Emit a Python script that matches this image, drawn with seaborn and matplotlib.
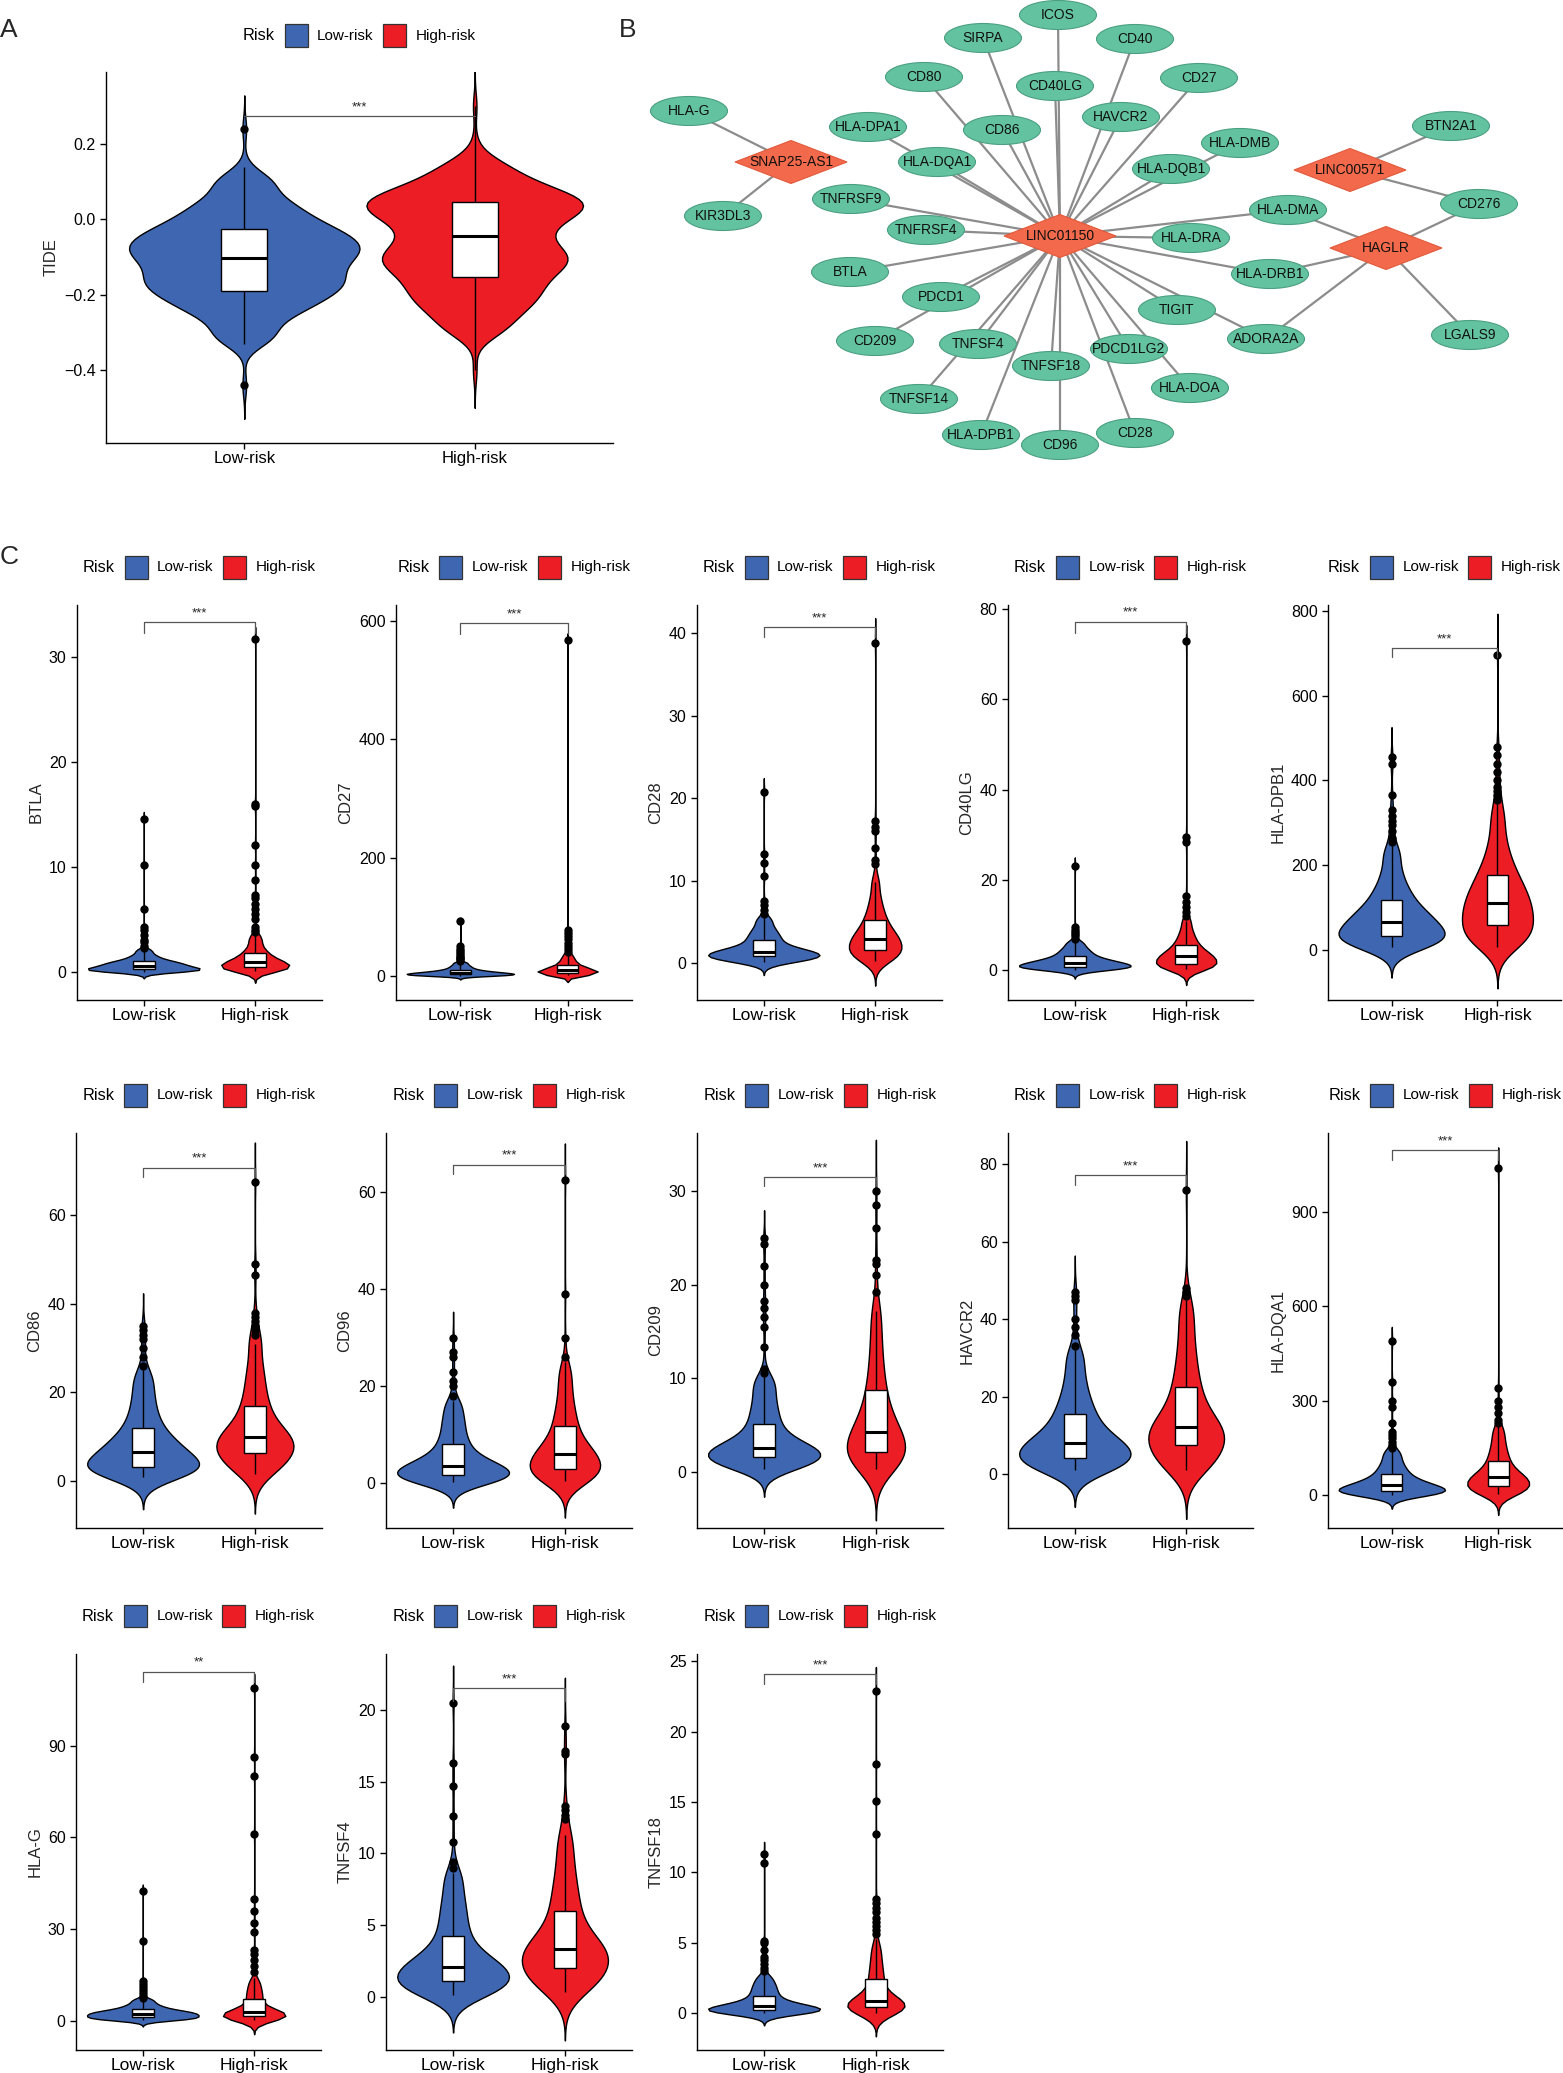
import numpy as np
import pandas as pd
import matplotlib
matplotlib.use("Agg")
import matplotlib.pyplot as plt
import seaborn as sns
from matplotlib.patches import Ellipse, Polygon, Rectangle
from matplotlib.offsetbox import TextArea, DrawingArea, HPacker, AnchoredOffsetbox

# ---------------- data ----------------
groups = ["Low-risk", "High-risk"]
colors = ["#3F67B1", "#EC1D25"]

# core = group quantiles at 2.5%, 7.5%, ..., 97.5%; out = single extreme samples
tide_low = [-0.31, -0.26, -0.23, -0.21, -0.19, -0.175, -0.16, -0.145, -0.125, -0.11,
            -0.095, -0.08, -0.07, -0.055, -0.04, -0.025, -0.005, 0.02, 0.05, 0.10]
tide_low_out = [-0.33, 0.14, 0.24, -0.44]
tide_high = [-0.29, -0.245, -0.215, -0.19, -0.165, -0.14, -0.12, -0.105, -0.09, -0.07,
             -0.045, -0.02, 0.0, 0.02, 0.033, 0.045, 0.058, 0.075, 0.10, 0.14]
tide_high_out = [-0.40, 0.20, 0.30]

btla_low = [0.02, 0.06, 0.10, 0.14, 0.18, 0.22, 0.27, 0.33, 0.40, 0.50, 0.58, 0.65, 0.72, 0.82, 0.92, 1.0, 1.15, 1.35, 1.6, 2.0]
btla_low_out = [2.3, 2.5, 2.8, 3.0, 3.5, 4.0, 4.3, 6.0, 10.2, 14.6]
btla_high = [0.05, 0.12, 0.2, 0.28, 0.35, 0.43, 0.52, 0.62, 0.72, 0.82, 0.9, 1.0, 1.12, 1.28, 1.5, 1.7, 1.95, 2.3, 2.8, 3.3]
btla_high_out = [3.5, 3.8, 4.0, 4.3, 5.0, 5.5, 6.0, 6.5, 7.0, 7.3, 8.8, 10.2, 12.1, 15.8, 16.0, 31.8]

cd27_low = [0.5, 1.0, 1.4, 1.8, 2.2, 2.6, 3.0, 3.6, 4.2, 4.8, 5.4, 6.0, 6.8, 7.8, 9.0, 10.5, 12.5, 15, 18, 22]
cd27_low_out = [25, 28, 30, 32, 35, 38, 42, 45, 50, 92]
cd27_high = [1.0, 2.0, 3.0, 3.8, 4.6, 5.4, 6.3, 7.3, 8.4, 9.5, 10.5, 11.6, 13, 14.5, 16.5, 19, 22, 26, 30, 36]
cd27_high_out = [40, 45, 50, 55, 62, 68, 72, 78, 568]

cd28_low = [0.2, 0.35, 0.48, 0.6, 0.72, 0.85, 0.95, 1.05, 1.18, 1.3, 1.4, 1.55, 1.75, 2.0, 2.35, 2.8, 3.2, 3.7, 4.3, 5.2]
cd28_low_out = [5.5, 6, 6.5, 7, 7.5, 10.6, 12.2, 13.2, 20.8]
cd28_high = [0.3, 0.6, 0.9, 1.1, 1.35, 1.6, 1.9, 2.2, 2.5, 2.8, 3.0, 3.3, 3.7, 4.1, 4.6, 5.2, 5.9, 6.8, 8.0, 9.8]
cd28_high_out = [12, 12.5, 14, 16, 16.5, 17.2, 38.8]

cd40lg_low = [0.15, 0.3, 0.42, 0.55, 0.68, 0.82, 0.95, 1.1, 1.3, 1.5, 1.7, 1.9, 2.1, 2.4, 2.75, 3.2, 3.7, 4.3, 5.0, 6.0]
cd40lg_low_out = [6.5, 7, 7.5, 8, 8.5, 9, 9.5, 23]
cd40lg_high = [0.2, 0.45, 0.7, 0.95, 1.15, 1.45, 1.8, 2.15, 2.5, 2.85, 3.1, 3.4, 3.8, 4.3, 4.9, 5.6, 6.4, 7.5, 8.8, 10.8]
cd40lg_high_out = [12, 13, 14, 15, 16.5, 28.5, 29.5, 73]

dpb1_low = [6, 12, 17, 22, 27, 33, 39, 45, 52, 59, 67, 75, 83, 92, 104, 118, 135, 155, 185, 225]
dpb1_low_out = [245, 255, 265, 280, 295, 305, 315, 330, 365, 440, 455]
dpb1_high = [8, 18, 28, 38, 47, 58, 68, 79, 90, 100, 110, 121, 133, 146, 160, 176, 196, 222, 258, 310]
dpb1_high_out = [335, 345, 355, 365, 375, 385, 400, 420, 440, 460, 480, 695]

cd86_low = [1.0, 1.5, 2.0, 2.4, 2.8, 3.2, 3.7, 4.3, 5.0, 5.8, 6.5, 7.3, 8.2, 9.2, 10.4, 12, 14, 16.5, 19.5, 23]
cd86_low_out = [24, 25, 26, 28, 30, 32, 33, 34, 35]
cd86_high = [1.5, 2.8, 3.9, 4.8, 5.6, 6.4, 7.2, 8.0, 8.7, 9.3, 9.9, 10.7, 11.8, 13.2, 15, 17, 19.5, 22.5, 26, 31]
cd86_high_out = [33, 34, 35, 36, 37, 38, 46.5, 49, 67.5]

cd96_low = [0.3, 0.6, 0.9, 1.1, 1.35, 1.65, 2.0, 2.4, 2.85, 3.25, 3.6, 4.1, 4.7, 5.5, 6.6, 8.0, 9.5, 11.5, 13.5, 16]
cd96_low_out = [17, 18, 20, 21, 23, 26, 27, 30]
cd96_high = [0.4, 0.9, 1.4, 1.9, 2.4, 2.9, 3.5, 4.2, 4.9, 5.5, 6.0, 6.7, 7.6, 8.7, 10.2, 11.8, 13.8, 16, 19, 22.5]
cd96_high_out = [23.5, 24, 25, 26, 30, 39, 62.5]

cd209_low = [0.3, 0.6, 0.85, 1.05, 1.3, 1.55, 1.75, 1.95, 2.15, 2.35, 2.55, 2.85, 3.2, 3.7, 4.3, 5.1, 6.0, 7.0, 8.2, 9.5]
cd209_low_out = [9.8, 10, 10.3, 10.6, 11, 13.3, 15.5, 16.5, 17.5, 18.3, 20, 22, 24.3, 25]
cd209_high = [0.3, 0.7, 1.1, 1.45, 1.8, 2.15, 2.55, 3.0, 3.5, 3.9, 4.3, 4.9, 5.6, 6.5, 7.5, 8.7, 10.2, 12, 14.2, 16.8]
cd209_high_out = [17.2, 19.2, 21, 22.2, 22.6, 26, 28.5, 30]

havcr2_low = [1.0, 1.7, 2.3, 2.9, 3.5, 4.3, 5.1, 5.9, 6.7, 7.4, 8.0, 9.0, 10.3, 11.8, 13.6, 15.6, 18, 21, 25, 30]
havcr2_low_out = [32, 33, 36, 38, 40, 45, 46, 47]
havcr2_high = [1.0, 2.2, 3.5, 4.8, 6.0, 7.5, 8.6, 9.6, 10.5, 11.3, 12.2, 13.5, 15.2, 17.2, 19.8, 22.5, 26, 30, 35, 41]
havcr2_high_out = [43, 44, 45, 46, 47, 48, 73.5]

dqa1_low = [1.5, 3.5, 5.5, 7.5, 9.5, 12, 15, 19, 23.5, 27, 31, 35.5, 41, 47.5, 56, 66, 78, 92, 110, 132]
dqa1_low_out = [140, 145, 150, 160, 170, 180, 190, 200, 230, 280, 300, 360, 490]
dqa1_high = [3, 8, 13, 18, 23, 28.5, 34, 40, 46, 51, 56, 62, 70, 80, 93, 108, 125, 145, 170, 200]
dqa1_high_out = [210, 215, 220, 230, 240, 260, 280, 300, 340, 1040]

hlag_low = [0.2, 0.4, 0.6, 0.8, 1.0, 1.2, 1.45, 1.7, 1.95, 2.15, 2.35, 2.55, 2.8, 3.05, 3.35, 3.7, 4.2, 4.8, 5.6, 6.7]
hlag_low_out = [7, 7.5, 8, 9, 10, 11, 12, 13, 26, 42.5]
hlag_high = [0.2, 0.45, 0.7, 0.95, 1.2, 1.45, 1.75, 2.05, 2.3, 2.5, 2.75, 3.1, 3.6, 4.3, 5.5, 7.0, 8.3, 9.6, 11.2, 13]
hlag_high_out = [14, 16, 18, 20, 22, 23, 29, 32, 36, 40, 61, 80, 86.5, 109]

tnfsf4_low = [0.1, 0.3, 0.5, 0.7, 0.9, 1.1, 1.3, 1.5, 1.7, 1.9, 2.1, 2.35, 2.65, 3.0, 3.5, 4.2, 5.0, 5.9, 6.9, 8.2]
tnfsf4_low_out = [8.6, 9, 9.4, 10.8, 12.6, 14.7, 16.3, 20.5]
tnfsf4_high = [0.3, 0.7, 1.1, 1.4, 1.7, 2.0, 2.3, 2.6, 2.85, 3.1, 3.35, 3.65, 4.0, 4.5, 5.2, 6.0, 6.9, 7.9, 9.2, 10.8]
tnfsf4_high_out = [11.3, 12.4, 12.7, 13, 13.3, 16.9, 17.1, 18.9]

tnfsf18_low = [0.02, 0.05, 0.09, 0.13, 0.17, 0.21, 0.26, 0.32, 0.38, 0.44, 0.5, 0.58, 0.68, 0.82, 1.0, 1.25, 1.5, 1.8, 2.1, 2.5]
tnfsf18_low_out = [2.8, 3.0, 3.2, 3.5, 3.8, 4.0, 4.5, 5.0, 5.1, 10.7, 11.3]
tnfsf18_high = [0.05, 0.12, 0.2, 0.28, 0.36, 0.44, 0.52, 0.6, 0.7, 0.78, 0.88, 1.0, 1.2, 1.5, 1.9, 2.35, 2.8, 3.3, 3.9, 4.6]
tnfsf18_high_out = [4.8, 5.0, 5.3, 5.6, 5.9, 6.2, 6.5, 6.8, 7.2, 7.5, 7.8, 8.1, 12.7, 15.1, 17.7, 22.9]

# network (panel B)
lnc_nodes = ["LINC01150", "SNAP25-AS1", "LINC00571", "HAGLR"]
edges = [("SNAP25-AS1", "HLA-G"), ("SNAP25-AS1", "KIR3DL3"),
         ("LINC00571", "BTN2A1"), ("LINC00571", "CD276"),
         ("HAGLR", "CD276"), ("HAGLR", "HLA-DMA"), ("HAGLR", "HLA-DRB1"),
         ("HAGLR", "ADORA2A"), ("HAGLR", "LGALS9")]
linc01150_targets = ["ICOS", "SIRPA", "CD40", "CD40LG", "CD27", "CD80", "CD86", "HAVCR2",
                     "HLA-DPA1", "HLA-DQA1", "HLA-DMB", "HLA-DQB1", "TNFRSF9", "TNFRSF4",
                     "BTLA", "PDCD1", "CD209", "TNFSF4", "TNFSF14", "HLA-DPB1", "TNFSF18",
                     "CD96", "PDCD1LG2", "CD28", "HLA-DOA", "TIGIT", "ADORA2A", "HLA-DRB1",
                     "HLA-DRA", "HLA-DMA"]
edges += [("LINC01150", t) for t in linc01150_targets]

# layout of the network, in figure pixels
node_pos = {
    "LINC01150": (1060, 236), "SNAP25-AS1": (791, 162), "LINC00571": (1350, 170), "HAGLR": (1386, 248),
    "HLA-G": (689, 111), "KIR3DL3": (723, 216), "CD80": (924, 77), "HLA-DPA1": (868, 127),
    "HLA-DQA1": (937, 162), "TNFRSF9": (851, 199), "TNFRSF4": (926, 230), "BTLA": (850, 272),
    "PDCD1": (941, 297), "CD209": (875, 341), "TNFSF14": (919, 399), "TNFSF4": (978, 344),
    "HLA-DPB1": (981, 435), "SIRPA": (983, 38), "CD86": (1002, 130), "ICOS": (1058, 15),
    "CD40": (1135, 39), "CD40LG": (1055, 86), "CD27": (1199, 78), "HAVCR2": (1121, 117),
    "HLA-DMB": (1240, 143), "HLA-DQB1": (1171, 169), "HLA-DMA": (1288, 210), "HLA-DRA": (1191, 238),
    "HLA-DRB1": (1270, 274), "TIGIT": (1177, 310), "ADORA2A": (1266, 339), "PDCD1LG2": (1129, 349),
    "HLA-DOA": (1190, 388), "TNFSF18": (1051, 366), "CD28": (1135, 433), "CD96": (1060, 445),
    "BTN2A1": (1451, 126), "CD276": (1479, 204), "LGALS9": (1470, 335),
}

# ---------------- style ----------------
sns.set_style("ticks")
plt.rcParams["font.family"] = ["Liberation Sans", "DejaVu Sans"]
plt.rcParams["axes.linewidth"] = 1.0

W, H = 1563, 2073
fig = plt.figure(figsize=(W / 100, H / 100), dpi=100)


def px_axes(l, r, t, b):
    return fig.add_axes([l / W, 1 - b / H, (r - l) / W, (b - t) / H])


def make_bw(mult):
    def nrd0(kde):
        # R's default bandwidth (bw.nrd0), as ggplot uses
        x = kde.dataset[0]
        sd = x.std(ddof=1)
        q75, q25 = np.percentile(x, [75, 25])
        lo = min(sd, (q75 - q25) / 1.34)
        return 0.9 * lo * len(x) ** -0.2 / sd * mult
    return nrd0


def risk_legend(ax, fs=11):
    items = [TextArea("Risk", textprops=dict(fontsize=fs + 0.8, color="black"))]
    for lab, col in zip(groups, colors):
        da = DrawingArea(16.5, 16.5, 0, 0)
        da.add_artist(Rectangle((0, 0), 16.5, 16.5, fc=col, ec="#333333", lw=0.9))
        items += [da, TextArea(lab, textprops=dict(fontsize=fs, color="black"))]
    box = HPacker(children=items, align="center", pad=0, sep=7)
    anch = AnchoredOffsetbox(loc="lower center", child=box, pad=0, borderpad=0, frameon=False,
                             bbox_to_anchor=(0.5, 1.067), bbox_transform=ax.transAxes)
    ax.add_artist(anch)


def violin_panel(ax, low, low_out, high, high_out, ylabel, ylim, yticks,
                 sig_y, tip_y=None, label="***", widths=(1.0, 0.6), bw_mult=1.25, rep=12):
    vals = list(np.repeat(low, rep)) + list(low_out) + list(np.repeat(high, rep)) + list(high_out)
    risk = (["Low-risk"] * (len(low) * rep + len(low_out))
            + ["High-risk"] * (len(high) * rep + len(high_out)))
    df = pd.DataFrame({"Risk": risk, "value": vals})
    # one violin per group so each keeps the width it has in the figure
    for g, col, w in zip(groups, colors, widths):
        sns.violinplot(data=df[df["Risk"] == g], x="Risk", y="value", order=groups,
                       color=col, saturation=1, width=w, cut=3, bw_method=make_bw(bw_mult),
                       density_norm="width", inner=None, linewidth=1.0, linecolor="black", ax=ax)
    sns.boxplot(data=df, x="Risk", y="value", order=groups, width=0.2, color="white",
                linecolor="black", linewidth=1.0, fliersize=5, showcaps=False,
                flierprops=dict(marker="o", markerfacecolor="black", markeredgecolor="black"),
                medianprops=dict(linewidth=2.2), ax=ax)
    # significance bracket
    if tip_y is None:
        ax.plot([0, 1], [sig_y, sig_y], color="#555555", lw=0.9)
    else:
        ax.plot([0, 0, 1, 1], [tip_y, sig_y, sig_y, tip_y], color="#555555", lw=0.9)
    ax.annotate(label, (0.5, sig_y), xytext=(0, 2), textcoords="offset points",
                ha="center", va="bottom", fontsize=9.5)
    ax.set_xlim(-0.6, 1.6)
    ax.set_ylim(*ylim)
    ax.set_yticks(yticks)
    ax.set_xlabel("")
    ax.set_ylabel(ylabel, fontsize=12)
    ax.tick_params(axis="y", labelsize=11.5, length=4, width=1, colors="black")
    ax.tick_params(axis="x", labelsize=12.5, length=4, width=1, colors="black", pad=1.5)
    sns.despine(ax=ax)
    for s in ["left", "bottom"]:
        ax.spines[s].set_color("black")
    risk_legend(ax)


# ---------------- panel A ----------------
axA = px_axes(106, 613, 72, 443)
violin_panel(axA, tide_low, tide_low_out, tide_high, tide_high_out, "TIDE",
             (-0.593, 0.391), [-0.4, -0.2, 0.0, 0.2], 0.274, None,
             widths=(1.0, 0.94), bw_mult=0.9)
axA.tick_params(axis="x", labelsize=12)

# ---------------- panel C ----------------
panels = [
    # name, low, low_out, high, high_out, (l, r, t, b), ylim, yticks, sig_y, tip_y, label, violin widths
    ("BTLA", btla_low, btla_low_out, btla_high, btla_high_out, (77, 322, 605, 1000), (-2.7, 35.0), [0, 10, 20, 30], 33.4, 32.35, "***", (1.0, 0.61)),
    ("CD27", cd27_low, cd27_low_out, cd27_high, cd27_high_out, (396, 632, 605, 1000), (-40.7, 627), [0, 200, 400, 600], 597, 578, "***", (1.0, 0.56)),
    ("CD28", cd28_low, cd28_low_out, cd28_high, cd28_high_out, (697, 942, 605, 1000), (-4.45, 43.4), [0, 10, 20, 30, 40], 40.7, 39.5, "***", (1.0, 0.47)),
    ("CD40LG", cd40lg_low, cd40lg_low_out, cd40lg_high, cd40lg_high_out, (1008, 1253, 605, 1000), (-6.6, 80.9), [0, 20, 40, 60, 80], 77.2, 74.8, "***", (1.0, 0.54)),
    ("HLA-DPB1", dpb1_low, dpb1_low_out, dpb1_high, dpb1_high_out, (1328, 1561, 605, 1000), (-118, 814), [0, 200, 400, 600, 800], 713, 691, "***", (1.0, 0.67)),
    ("CD86", cd86_low, cd86_low_out, cd86_high, cd86_high_out, (76, 322, 1133, 1528), (-10.6, 78.5), [0, 20, 40, 60], 70.7, 68.5, "***", (1.0, 0.69)),
    ("CD96", cd96_low, cd96_low_out, cd96_high, cd96_high_out, (386, 632, 1133, 1528), (-9.2, 72.1), [0, 20, 40, 60], 65.6, 63.6, "***", (1.0, 0.63)),
    ("CD209", cd209_low, cd209_low_out, cd209_high, cd209_high_out, (697, 943, 1133, 1528), (-6.0, 36.2), [0, 10, 20, 30], 31.5, 30.5, "***", (1.0, 0.52)),
    ("HAVCR2", havcr2_low, havcr2_low_out, havcr2_high, havcr2_high_out, (1008, 1253, 1133, 1528), (-13.9, 88.1), [0, 20, 40, 60, 80], 77.2, 74.8, "***", (1.0, 0.68)),
    ("HLA-DQA1", dqa1_low, dqa1_low_out, dqa1_high, dqa1_high_out, (1328, 1562, 1133, 1528), (-105, 1152), [0, 300, 600, 900], 1098, 1066, "***", (1.0, 0.58)),
    ("HLA-G", hlag_low, hlag_low_out, hlag_high, hlag_high_out, (76, 321, 1654, 2050), (-9.6, 120.1), [0, 30, 60, 90], 114.3, 111, "**", (1.0, 0.56)),
    ("TNFSF4", tnfsf4_low, tnfsf4_low_out, tnfsf4_high, tnfsf4_high_out, (386, 632, 1654, 2050), (-3.72, 23.9), [0, 5, 10, 15, 20], 21.5, 20.6, "***", (1.0, 0.77)),
    ("TNFSF18", tnfsf18_low, tnfsf18_low_out, tnfsf18_high, tnfsf18_high_out, (697, 943, 1654, 2050), (-2.6, 25.5), [0, 5, 10, 15, 20, 25], 24.1, 23.4, "***", (1.0, 0.51)),
]
for name, lo, lo_out, hi, hi_out, box, ylim, yt, sy, ty, lab, wd in panels:
    ax = px_axes(*box)
    violin_panel(ax, lo, lo_out, hi, hi_out, name, ylim, yt, sy, ty, lab, widths=wd)

# ---------------- panel B: network ----------------
axB = px_axes(600, 1563, 0, 470)
axB.set_xlim(600, 1563)
axB.set_ylim(470, 0)
axB.axis("off")
for a, b in edges:
    (x1, y1), (x2, y2) = node_pos[a], node_pos[b]
    axB.plot([x1, x2], [y1, y2], color="#8C8C8C", lw=1.6, zorder=1, solid_capstyle="butt")
for name, (x, y) in node_pos.items():
    if name in lnc_nodes:
        axB.add_patch(Polygon([(x - 56, y), (x, y - 21.5), (x + 56, y), (x, y + 21.5)],
                              closed=True, fc="#F26A4B", ec="#E2593B", lw=0.8, zorder=2))
    else:
        axB.add_patch(Ellipse((x, y), 77, 29, fc="#63C3A0", ec="#4A9F80", lw=0.8, zorder=2))
    axB.text(x, y, name, ha="center", va="center", fontsize=10, color="#111111", zorder=3)

# panel letters
fig.text(9 / W, 1 - 30 / H, "A", fontsize=19, ha="center", va="center")
fig.text(628 / W, 1 - 30 / H, "B", fontsize=19, ha="center", va="center")
fig.text(9 / W, 1 - 557 / H, "C", fontsize=19, ha="center", va="center")

fig.savefig("out.png", dpi=100)
